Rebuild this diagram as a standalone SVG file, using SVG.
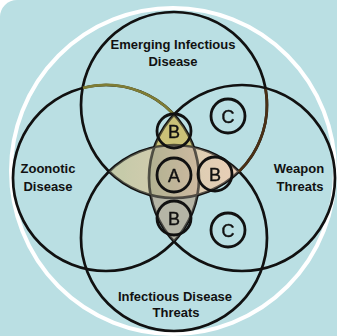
<svg xmlns="http://www.w3.org/2000/svg" xmlns:xlink="http://www.w3.org/1999/xlink" width="337" height="336" viewBox="0 0 337 336">
<style>
.big{fill:none;stroke:#111;stroke-width:2.7}
.sm{fill:none;stroke:#111;stroke-width:2.8}
.lbl{font-family:"Liberation Sans",Arial,sans-serif;font-weight:bold;font-size:13px;fill:#111;text-anchor:middle}
.let{font-family:"Liberation Sans",Arial,sans-serif;font-size:18px;fill:#111;stroke:#111;stroke-width:0.4;text-anchor:middle}
</style>
<defs>
<clipPath id="cT"><circle cx="174" cy="105" r="93"/></clipPath>
<clipPath id="cB"><circle cx="174" cy="238" r="93"/></clipPath>
<clipPath id="cL"><circle cx="106" cy="178" r="93"/></clipPath>
<clipPath id="cR"><circle cx="242" cy="178" r="93"/></clipPath>
<linearGradient id="gH" gradientUnits="userSpaceOnUse" x1="107" y1="0" x2="240" y2="0">
<stop offset="0" stop-color="#c2caa8"/><stop offset="1" stop-color="#eacfb8"/>
</linearGradient>
<linearGradient id="gV" gradientUnits="userSpaceOnUse" x1="150" y1="0" x2="198" y2="0">
<stop offset="0" stop-color="#b2b292"/><stop offset="1" stop-color="#cdb9a0"/>
</linearGradient>
<g id="fills">
<g clip-path="url(#cT)"><circle cx="174" cy="238" r="93" fill="url(#gH)"/></g>
<g clip-path="url(#cL)"><g clip-path="url(#cR)">
<rect x="140" y="100" width="70" height="150" fill="#cbc278"/>
<g clip-path="url(#cB)">
<rect x="140" y="100" width="70" height="150" fill="#b6b5a7"/>
<g clip-path="url(#cT)"><rect x="140" y="100" width="70" height="150" fill="url(#gV)"/></g>
</g>
</g></g>
</g>
</defs>
<rect width="337" height="336" fill="#ffffff"/>
<rect x="0" y="0" width="360" height="360" rx="17" fill="#badfe3"/>
<ellipse cx="173" cy="171" rx="162" ry="163" fill="none" stroke="#ffffff" stroke-width="4"/>
<use xlink:href="#fills"/>
<g id="emerging">
<circle class="big" cx="174" cy="105" r="93"/>
<text class="lbl" x="173" y="49">Emerging Infectious</text>
<text class="lbl" x="173" y="66">Disease</text>
</g>
<g id="zoonotic">
<circle class="big" cx="106" cy="178" r="93"/>
<text class="lbl" x="48" y="173">Zoonotic</text>
<text class="lbl" x="48" y="191">Disease</text>
</g>
<g id="weapon">
<circle class="big" cx="242" cy="178" r="93"/>
<text class="lbl" x="299" y="173">Weapon</text>
<text class="lbl" x="300" y="191">Threats</text>
</g>
<g id="infectious">
<circle class="big" cx="174" cy="238" r="93"/>
<text class="lbl" x="175" y="301">Infectious Disease</text>
<text class="lbl" x="176" y="317">Threats</text>
</g>
<g id="connectors">
<path d="M83,87.9 A93,93 0 0 1 174,114.6" fill="none" stroke="#7f7d35" stroke-width="2.7"/>
<path d="M265.6,88.9 A93,93 0 0 1 238.7,171.8" fill="none" stroke="#4a3015" stroke-width="2.7"/>
</g>
<use xlink:href="#fills" opacity="0.35"/>
<g id="a"><circle class="sm" cx="174" cy="175" r="17"/><text class="let" x="174" y="181.5">A</text></g>
<g id="b-top"><circle class="sm" cx="174" cy="131" r="17"/><text class="let" x="174" y="137.5">B</text></g>
<g id="b-right"><circle class="sm" cx="215" cy="174" r="17"/><text class="let" x="215" y="180.5">B</text></g>
<g id="b-bottom"><circle class="sm" cx="174" cy="218" r="17"/><text class="let" x="174" y="224.5">B</text></g>
<g id="c-top"><circle class="sm" cx="228" cy="116" r="17"/><text class="let" x="228" y="122.5">C</text></g>
<g id="c-bottom"><circle class="sm" cx="228" cy="230" r="17"/><text class="let" x="228" y="236.5">C</text></g>
</svg>
